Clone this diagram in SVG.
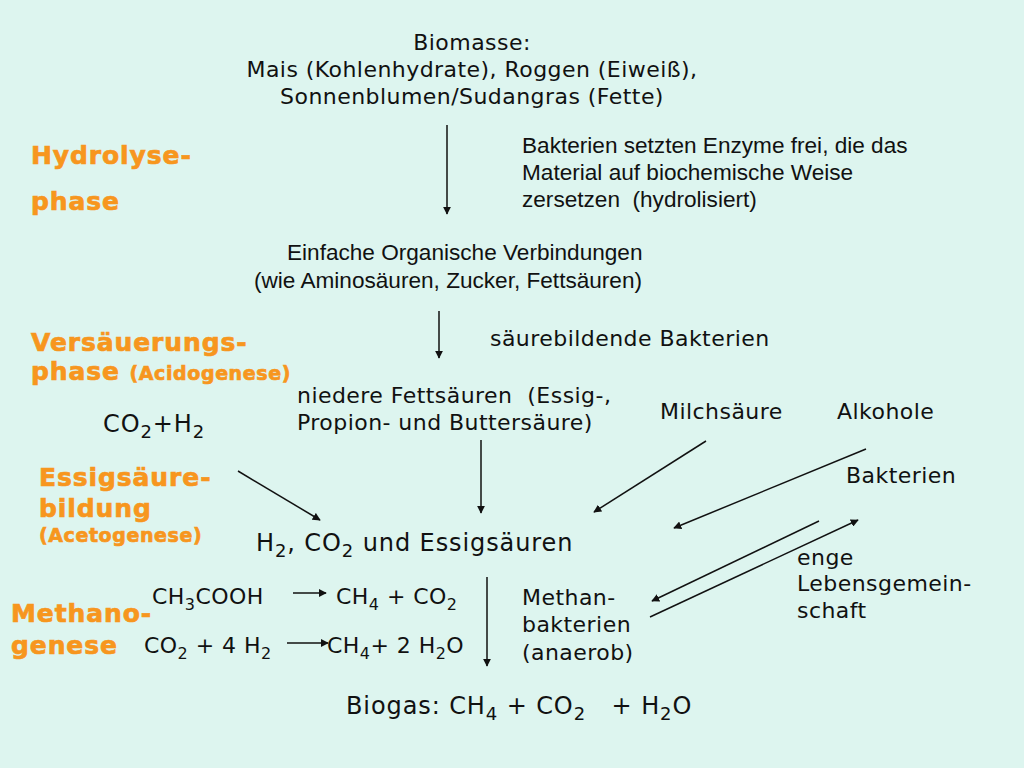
<svg xmlns="http://www.w3.org/2000/svg" width="1024" height="768" viewBox="0 0 1024 768">
<style>
.v{font-family:"DejaVu Sans",Verdana,sans-serif;font-size:22px;letter-spacing:0.45px;fill:#111;white-space:pre}
.a{font-family:"Liberation Sans",Arial,sans-serif;font-size:22.6px;fill:#111;white-space:pre}
.o{font-family:"DejaVu Sans",Verdana,sans-serif;font-size:25px;letter-spacing:0.9px;font-weight:bold;fill:#F7961E;stroke:#F7961E;stroke-width:0.7px;white-space:pre}
.os{font-size:19px;letter-spacing:0.6px}
.big{font-size:24px;letter-spacing:0.9px}
.c line{stroke:#111;stroke-width:1.5;marker-end:url(#ah)}
</style>
<defs>
<marker id="ah" viewBox="0 0 10 10" refX="9" refY="5" markerWidth="8" markerHeight="8" orient="auto" markerUnits="userSpaceOnUse"><path d="M0,0 L10,5 L0,10 z" fill="#111"/></marker>
</defs>
<rect width="1024" height="768" fill="#DDF5EF"/>

<g id="phases">
<text class="o" x="31" y="164">Hydrolyse-</text>
<text class="o" x="31" y="210">phase</text>
<text class="o" x="31" y="351">Versäuerungs-</text>
<text class="o" x="31" y="380">phase <tspan class="os">(Acidogenese)</tspan></text>
<text class="o" x="39" y="486">Essigsäure-</text>
<text class="o" x="39" y="517">bildung</text>
<text class="o os" x="39" y="542">(Acetogenese)</text>
<text class="o" x="11" y="622">Methano-</text>
<text class="o" x="11" y="654">genese</text>
</g>

<g id="biomasse">
<text class="v" text-anchor="middle" x="472" y="50">Biomasse:</text>
<text class="v" text-anchor="middle" x="472" y="77">Mais (Kohlenhydrate), Roggen (Eiweiß),</text>
<text class="v" text-anchor="middle" x="472" y="104">Sonnenblumen/Sudangras (Fette)</text>
</g>

<g id="enzyme">
<text class="a" x="522" y="153">Bakterien setzten Enzyme frei, die das</text>
<text class="a" x="522" y="180">Material auf biochemische Weise</text>
<text class="a" x="522" y="207">zersetzen  (hydrolisiert)</text>
</g>

<g id="einfache">
<text class="a" x="287" y="260">Einfache Organische Verbindungen</text>
<text class="a" x="254" y="288">(wie Aminosäuren, Zucker, Fettsäuren)</text>
</g>

<g id="saeurebildende">
<text class="v" x="490" y="346">säurebildende Bakterien</text>
</g>

<g id="co2h2">
<text class="v big" x="103" y="432">CO<tspan font-size="18" dy="6">2</tspan><tspan dy="-6">+H</tspan><tspan font-size="18" dy="6">2</tspan></text>
</g>

<g id="fettsaeuren">
<text class="v" x="297" y="403">niedere Fettsäuren  (Essig-,</text>
<text class="v" x="297" y="430">Propion- und Buttersäure)</text>
</g>

<g id="milchsaeure"><text class="v" x="660" y="419">Milchsäure</text></g>
<g id="alkohole"><text class="v" x="837" y="419">Alkohole</text></g>
<g id="bakterien"><text class="v" x="846" y="483">Bakterien</text></g>

<g id="essigsaeuren">
<text class="v big" x="256" y="551">H<tspan font-size="18" dy="6">2</tspan><tspan dy="-6">, CO</tspan><tspan font-size="18" dy="6">2</tspan><tspan dy="-6"> und Essigsäuren</tspan></text>
</g>

<g id="reaktion1">
<text class="v" x="152" y="604">CH<tspan font-size="16" dy="6">3</tspan><tspan dy="-6">COOH</tspan></text>
<text class="v" x="336" y="604">CH<tspan font-size="16" dy="6">4</tspan><tspan dy="-6"> + CO</tspan><tspan font-size="16" dy="6">2</tspan></text>
</g>
<g id="reaktion2">
<text class="v" x="144" y="653">CO<tspan font-size="16" dy="6">2</tspan><tspan dy="-6"> + 4 H</tspan><tspan font-size="16" dy="6">2</tspan></text>
<text class="v" x="327" y="653">CH<tspan font-size="16" dy="6">4</tspan><tspan dy="-6">+ 2 H</tspan><tspan font-size="16" dy="6">2</tspan><tspan dy="-6">O</tspan></text>
</g>

<g id="methanbakterien">
<text class="v" x="522" y="605">Methan-</text>
<text class="v" x="522" y="632">bakterien</text>
<text class="v" x="522" y="660">(anaerob)</text>
</g>

<g id="lebensgemeinschaft">
<text class="v" x="797" y="565">enge</text>
<text class="v" x="797" y="591">Lebensgemein-</text>
<text class="v" x="797" y="618">schaft</text>
</g>

<g id="biogas">
<text class="v big" x="346" y="714">Biogas: CH<tspan font-size="18" dy="6">4</tspan><tspan dy="-6"> + CO</tspan><tspan font-size="18" dy="6">2</tspan><tspan dy="-6">   + H</tspan><tspan font-size="18" dy="6">2</tspan><tspan dy="-6">O</tspan></text>
</g>

<g id="connectors" class="c">
<line x1="447" y1="125" x2="447" y2="214"/>
<line x1="439" y1="311" x2="439" y2="358"/>
<line x1="481" y1="440" x2="481" y2="513"/>
<line x1="487" y1="577" x2="487" y2="666"/>
<line x1="238" y1="471" x2="320" y2="520"/>
<line x1="706" y1="441" x2="594" y2="512"/>
<line x1="866" y1="449" x2="674" y2="528"/>
<line x1="819" y1="521" x2="652" y2="601"/>
<line x1="650" y1="617" x2="858" y2="520"/>
<line x1="293" y1="593" x2="326" y2="593"/>
<line x1="287" y1="643" x2="328" y2="643"/>
</g>
</svg>
